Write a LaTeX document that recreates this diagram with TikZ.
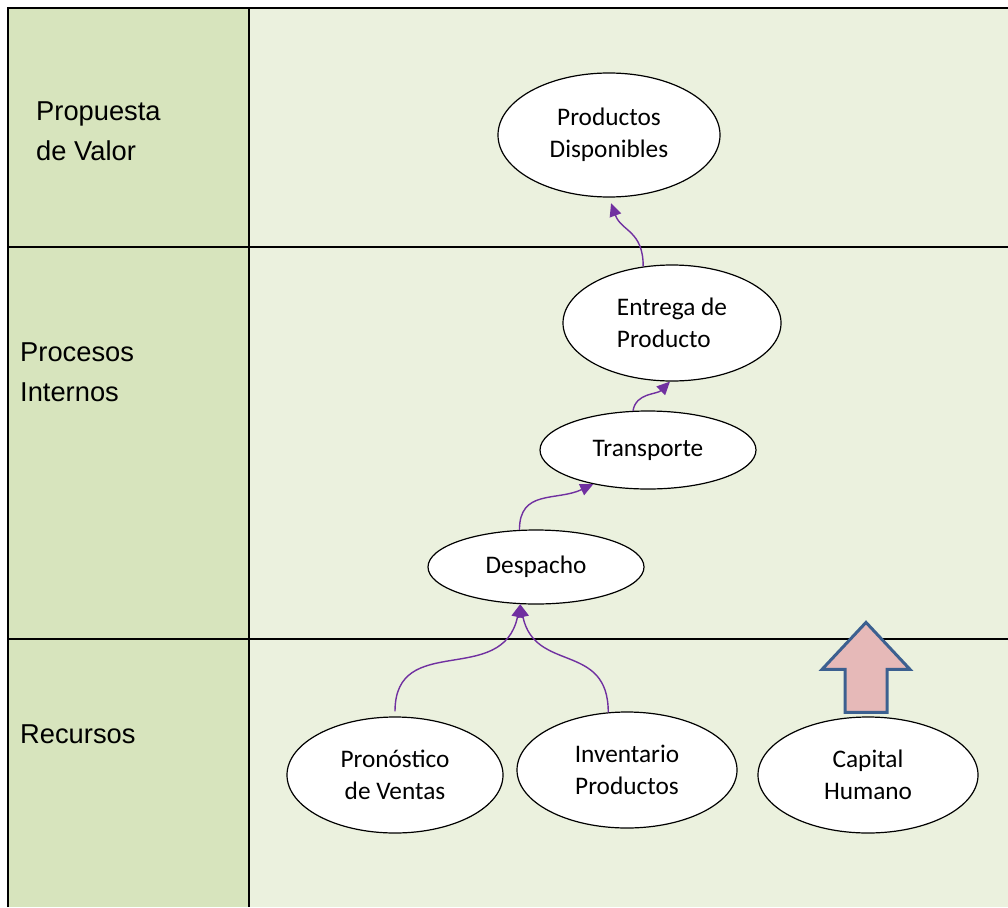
\documentclass[tikz,border=0pt]{standalone}
\usepackage{fontspec}
\setmainfont{Carlito}
\newfontfamily\arialfont{Liberation Sans}
\usetikzlibrary{shapes.geometric,arrows.meta,calc,positioning}

\definecolor{colIzq}{HTML}{D7E4BD}
\definecolor{colDer}{HTML}{EBF1DE}
\definecolor{morado}{HTML}{7030A0}
\definecolor{rosa}{HTML}{E6B9B8}
\definecolor{azulBorde}{HTML}{3C6090}

\begin{document}
\begin{tikzpicture}[
    x=1pt, y=-1pt,
    >={Triangle[length=13pt,width=12pt]}, % 箭头样式
    font=\fontsize{25.3}{32}\selectfont,
    objetivo/.style={ellipse, draw, fill=white, line width=1.2pt, inner sep=0pt, align=center},
    enlace/.style={->, morado, line width=1.4pt},
    etiqueta/.style={font=\arialfont\fontsize{27.3}{40}\selectfont, align=left, inner sep=0pt}
]
    \useasboundingbox (0,0) rectangle (1008,907);

    % --- 背景与表格 ---
    \fill[colIzq] (8,8) rectangle (249,907);
    \fill[colDer] (249,8) rectangle (1008,907);
    \draw[line width=1.8pt] (8,907) -- (8,8) -- (1008,8);
    \draw[line width=1.6pt] (249,8) -- (249,907);
    \draw[line width=1.8pt] (8,247) -- (1008,247);
    \draw[line width=1.8pt] (8,639) -- (1008,639);

    % --- 左栏标签 ---
    \node[etiqueta, anchor=west] (lblValor) at (36,131) {Propuesta\\de Valor};
    \node[etiqueta, anchor=west] (lblProc) at (20,372) {Procesos\\Internos};
    \node[etiqueta, anchor=base west] (lblRec) at (20,743) {Recursos};

    % --- 椭圆节点 ---
    \node[objetivo, minimum width=222pt, minimum height=124pt] (prod) at (609,135) {Productos\\Disponibles};
    \node[objetivo, minimum width=218pt, minimum height=116pt, align=left] (entrega) at (672,323) {Entrega de\\Producto};
    \node[objetivo, minimum width=216pt, minimum height=78pt] (trans) at (648,450) {Transporte};
    \node[objetivo, minimum width=216pt, minimum height=74pt] (desp) at (536,567) {Despacho};
    \node[objetivo, minimum width=216pt, minimum height=116pt] (pron) at (395,775) {Pronóstico\\de Ventas};
    \node[objetivo, minimum width=220pt, minimum height=116pt] (inv) at (627,770) {Inventario\\Productos};
    \node[objetivo, minimum width=220pt, minimum height=116pt] (cap) at (868,775) {Capital\\Humano};

    % --- 连接线 ---
    \draw[enlace, shorten <=5pt] (pron.north) to[out=90, in=258, looseness=1.3] (desp.-113);
    \draw[enlace] (inv.108) to[out=90, in=-78, looseness=1.3] (desp.-113);
    \draw[enlace] (desp.114) to[out=90, in=205, looseness=1.2] (trans.-148);
    \draw[enlace] (trans.111) to[out=80, in=225] (entrega.-92);
    \draw[enlace, shorten >=6pt] (entrega.117) to[out=90, in=-70, looseness=1.2] (prod.south);

    % --- 块状箭头 ---
    \coordinate (F) at ($(cap.north)+(-2,-4)$);
    \draw[fill=rosa, draw=azulBorde, line width=3pt, line join=miter]
        ($(F)+(-21,0)$) -- ($(F)+(21,0)$) -- ($(F)+(21,-43)$) -- ($(F)+(44,-43)$)
        -- ($(F)+(0,-90)$) -- ($(F)+(-44,-43)$) -- ($(F)+(-21,-43)$) -- cycle;
\end{tikzpicture}
\end{document}
